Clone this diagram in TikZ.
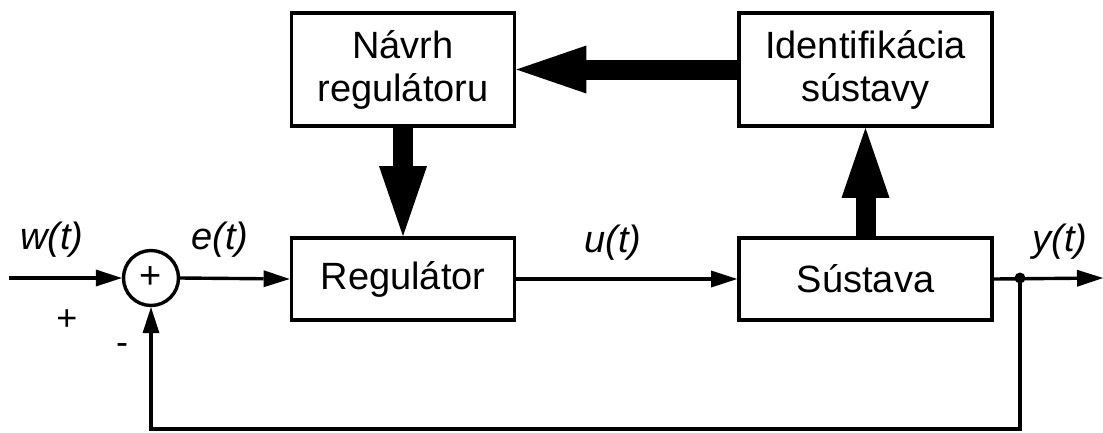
\documentclass[tikz,border=0pt]{standalone}
\usepackage{fontspec}
\setmainfont{Liberation Sans}
\usetikzlibrary{arrows.meta,calc}
\begin{document}
\begin{tikzpicture}[x=1pt,y=-1pt,
  txt/.style={font=\fontsize{38}{43}\selectfont, align=center},
  lbl/.style={font=\fontsize{38}{43}\selectfont\itshape, inner sep=0pt},
  block/.style={txt, draw, line width=3.8pt, inner sep=0pt},
  sig/.style={line width=3.4pt, -{Triangle[length=26pt,width=17pt,line width=0pt]}},
  bigarrow/.style={line width=20pt, -{Triangle[length=70pt,width=48pt,line width=0pt]}}]
  \useasboundingbox (0,0) rectangle (1103,432);

  % blocks
  \node[block, minimum width=223pt, minimum height=113pt] (nav) at (403,69.5) {Návrh\\regulátoru};
  \node[block, minimum width=253pt, minimum height=113pt] (ide) at (865.5,69.5) {Identifikácia\\sústavy};
  \node[block, minimum width=223pt, minimum height=82pt] (reg) at (403,279) {Regulátor};
  \node[block, minimum width=253pt, minimum height=82pt] (sus) at (865.5,279) {Sústava};

  % summing junction
  \node[draw, circle, line width=3.4pt, minimum size=55pt, inner sep=0pt,
        font=\fontsize{38}{40}\selectfont] (sum) at (151,278) {+};

  % free ends and branch point
  \coordinate (in) at (9,278);
  \coordinate (out) at (1103,278);
  \coordinate (br) at (1020,278);
  \coordinate (bot) at (1020,429);

  % signal flow
  \draw[sig] (in) -- (sum.west);
  \draw[sig] (sum.east) -- (reg.west);
  \draw[sig] (reg.east) -- (sus.west);
  \draw[sig] (sus.east) -- (out);
  \draw[sig] (br) -- (bot) -| (sum.south);
  \fill (br) circle (5.5pt);

  % adaptation loop
  \draw[bigarrow] (sus.north) -- (ide.south);
  \draw[bigarrow] (ide.west) -- (nav.east);
  \draw[bigarrow] (nav.south) -- (reg.north);

  % signal labels
  \node[lbl] (lw) at (52,240) {w(t)};
  \node[lbl] (le) at (220,240) {e(t)};
  \node[lbl] (lu) at (613,243) {u(t)};
  \node[lbl] (ly) at (1060,242) {y(t)};
  \node[font=\fontsize{36}{40}\selectfont, inner sep=0pt] (plus) at (67,320) {+};
  \node[font=\fontsize{36}{40}\selectfont, inner sep=0pt] (minus) at (122,349) {-};
\end{tikzpicture}
\end{document}
